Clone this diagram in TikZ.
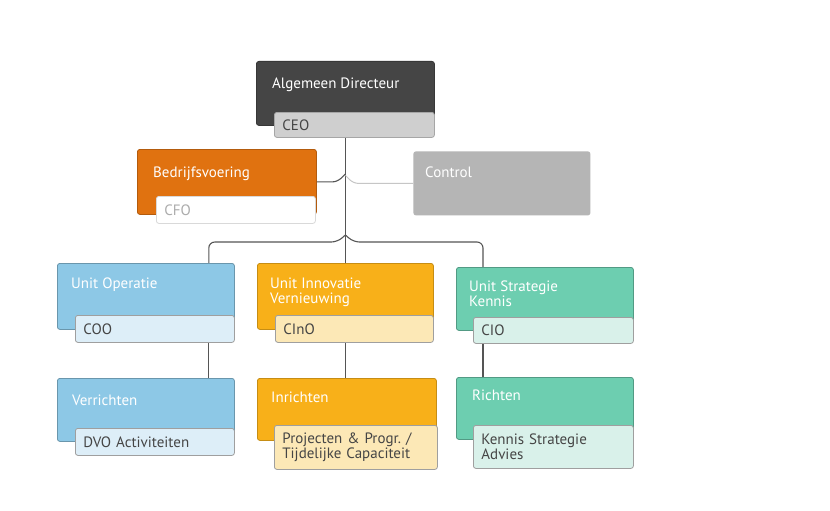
\documentclass[tikz,border=0pt]{standalone}
\usepackage{fontspec}
\setmainfont{PT Sans}
\usetikzlibrary{calc,backgrounds}
\definecolor{ceoC}{HTML}{454545}
\definecolor{ceoL}{HTML}{CFCFCF}
\definecolor{bvC}{HTML}{E07210}
\definecolor{ctrlC}{HTML}{B5B5B5}
\definecolor{blueC}{HTML}{8DC8E6}
\definecolor{blueL}{HTML}{DDEEF8}
\definecolor{yelC}{HTML}{F8B019}
\definecolor{yelL}{HTML}{FCE8B6}
\definecolor{grnC}{HTML}{6DCEB0}
\definecolor{grnL}{HTML}{D9F1EA}
\definecolor{lineC}{HTML}{555555}
\definecolor{subT}{HTML}{454545}
\frenchspacing
\begin{document}
\begin{tikzpicture}[x=1pt,y=-1pt,
  mainbox/.style={rounded corners=2.5pt, anchor=north west, inner sep=0pt, line width=0.8pt},
  title/.style={anchor=north west, text=white, align=left, inner sep=0pt, xshift=14pt, yshift=-16pt,
     font=\fontsize{15}{15}\selectfont},
  subbox/.style={rounded corners=2.5pt, anchor=north west, inner xsep=8pt, inner ysep=0pt, line width=0.8pt,
     align=left, text=subT, font=\fontsize{15}{15}\selectfont\frenchspacing},
  conn/.style={draw=lineC, line width=1.1pt},
  ctrlconn/.style={draw=gray!45, line width=1pt}
]
\useasboundingbox (0,0) rectangle (830,511);

% top
\node[mainbox, fill=ceoC, draw=ceoC!80!black, minimum width=178pt, minimum height=64pt,
  label={[title, xshift=2pt, yshift=-1pt]north west:Algemeen Directeur}] (ceo) at (256,61) {};
\node[subbox, fill=ceoL, draw=gray!70, minimum width=160pt, minimum height=25pt, text width=144pt] (ceoS) at (274,112) {CEO};

\node[mainbox, fill=bvC, draw=bvC!80!black, minimum width=179pt, minimum height=65pt,
  label={[title, xshift=2pt, yshift=-2pt]north west:Bedrijfsvoering}] (bv) at (137,149) {};
\node[subbox, fill=white, draw=gray!30, text=gray!65, minimum width=159pt, minimum height=27pt, text width=143pt] (bvS) at (156,196) {CFO};

\node[mainbox, fill=ctrlC, minimum width=177pt, minimum height=64pt,
  label={[title, xshift=-2pt]north west:Control}] (ctrl) at (413,151) {};

% units
\node[mainbox, fill=blueC, draw=blueC!75!black, minimum width=177pt, minimum height=66pt,
  label={[title, yshift=1pt]north west:Unit Operatie}] (uo) at (57,263) {};
\node[subbox, fill=blueL, draw=gray!75, minimum width=159pt, minimum height=27pt, text width=143pt] (uoS) at (75,315) {COO};

\node[mainbox, fill=yelC, draw=yelC!80!black, minimum width=176pt, minimum height=66pt,
  label={[title, xshift=-1pt, yshift=1pt]north west:Unit Innovatie\\Vernieuwing}] (ui) at (257,263) {};
\node[subbox, fill=yelL, draw=gray!75, minimum width=158pt, minimum height=27pt, text width=142pt] (uiS) at (275,315) {CInO};

\node[mainbox, fill=grnC, draw=grnC!75!black, minimum width=177pt, minimum height=63pt,
  label={[title, xshift=-1pt, yshift=2pt]north west:Unit Strategie\\Kennis}] (us) at (456,267) {};
\node[subbox, fill=grnL, draw=gray!75, minimum width=160pt, minimum height=26pt, text width=144pt] (usS) at (473,317) {CIO};

% lower
\node[mainbox, fill=blueC, draw=blueC!75!black, minimum width=177pt, minimum height=63pt,
  label={[title, xshift=1pt, yshift=-1pt]north west:Verrichten}] (verr) at (57,378) {};
\node[subbox, fill=blueL, draw=gray!75, minimum width=159pt, minimum height=27pt, text width=143pt] (verrS) at (75,428) {DVO Activiteiten};

\node[mainbox, fill=yelC, draw=yelC!80!black, minimum width=179pt, minimum height=62pt,
  label={[title, yshift=2pt]north west:Inrichten}] (inr) at (257,378) {};
\node[subbox, fill=yelL, draw=gray!75, minimum width=163pt, minimum height=44pt, text width=147pt] (inrS) at (274,425) {Projecten \& Progr. /\\Tijdelijke Capaciteit};

\node[mainbox, fill=grnC, draw=grnC!75!black, minimum width=177pt, minimum height=62pt,
  label={[title, xshift=2pt, yshift=3pt]north west:Richten}] (rich) at (456,377) {};
\node[subbox, fill=grnL, draw=gray!75, minimum width=160pt, minimum height=43pt, text width=144pt] (richS) at (473,425) {Kennis Strategie\\Advies};

\coordinate (dropL) at ($(uo.north east)+(-26,0)$);
\coordinate (dropR) at ($(us.north west)+(27,0)$);

\begin{pgfonlayer}{background}
  \fill[white] (0,0) rectangle (830,511);
  \draw[conn] (ceoS.south -| ui.north) -- (ui.north);
  \draw[conn, rounded corners=6pt] (dropL) |- ($(ui.north)+(-8,-21)$) -- ($(ui.north)+(0,-28)$);
  \draw[conn, rounded corners=6pt] ($(ui.north)+(0,-28)$) -- ($(ui.north)+(8,-21)$) -| (dropR);
  \draw[conn, rounded corners=5pt] (bv.east) -- ($(bv.east -| ui.north)+(-8,0)$) -- ($(bv.east -| ui.north)+(0,-8)$);
  \draw[ctrlconn, rounded corners=5pt] (ctrl.west) -- ($(ctrl.west -| ui.north)+(8,0)$) -- ($(ctrl.west -| ui.north)+(0,-8)$);
  \draw[conn] (uoS.south -| dropL) -- (verr.north -| dropL);
  \draw[conn] (uiS.south -| ui.north) -- (inr.north -| ui.north);
  \draw[conn] (usS.south -| dropR) -- (rich.north -| dropR);
\end{pgfonlayer}
\end{tikzpicture}
\end{document}
